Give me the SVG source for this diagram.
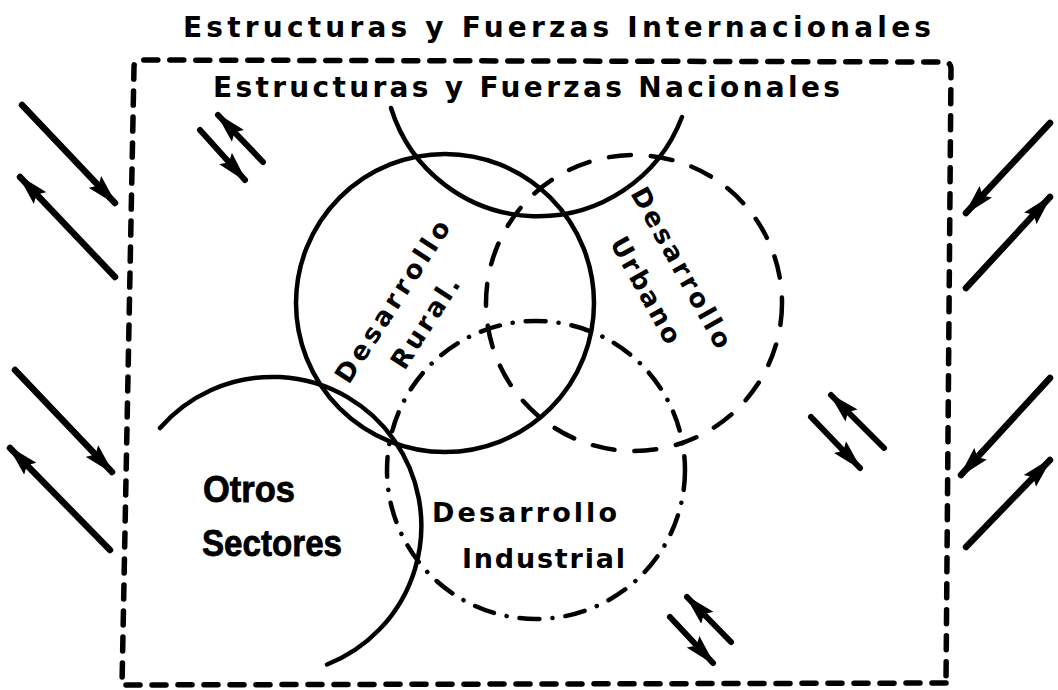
<svg xmlns="http://www.w3.org/2000/svg" width="1058" height="690" viewBox="0 0 1058 690">
  <style>
    .bg { fill: #ffffff; }
    .solid { fill: none; stroke: #000; stroke-width: 4.5; stroke-linecap: round; }
    .dashed { fill: none; stroke: #000; stroke-width: 4.5; stroke-linecap: round; stroke-dasharray: 22 20; }
    .dashdot { fill: none; stroke: #000; stroke-width: 4.5; stroke-linecap: round; stroke-dasharray: 20 13 0.1 13; }
    .frame { fill: none; stroke: #000; stroke-width: 5.5; stroke-linecap: round; stroke-linejoin: round; stroke-dasharray: 14 12; }
    .arrow { fill: none; stroke: #000; stroke-width: 6.5; stroke-linecap: round; marker-end: url(#head); }
    .arrow.small { stroke-width: 6; }
    .t { font-family: "DejaVu Sans", "Liberation Sans", Arial, sans-serif; font-weight: bold; fill: #000; }
    .h { font-family: "Liberation Sans", Arial, sans-serif; font-weight: bold; fill: #000; }
  </style>
  <defs>
    <marker id="head" markerUnits="userSpaceOnUse" markerWidth="32" markerHeight="18" viewBox="0 0 32 18" refX="29" refY="9" orient="auto">
      <path d="M0,0.5 L32,9 L0,17.5 L5,9 Z" fill="#000"/>
    </marker>
  </defs>
  <rect class="bg" x="0" y="0" width="1058" height="690"/>

  <g id="internacional">
    <path class="frame" d="M946,683 L122,685 L134,67 Q134,60 141,60 L944,62 Q951,62 951,69 Z"/>
    <text class="t" x="183" y="37" font-size="28" textLength="748" lengthAdjust="spacing">Estructuras y Fuerzas Internacionales</text>
  </g>

  <g id="nacional">
    <path class="solid" d="M391,108 A154,154 0 0 0 682,117"/>
    <text class="t" x="213" y="97" font-size="28" textLength="627" lengthAdjust="spacing">Estructuras y Fuerzas Nacionales</text>
  </g>

  <g id="rural">
    <circle class="solid" cx="445" cy="303" r="149"/>
    <text class="t" font-size="26" text-anchor="middle" transform="translate(392.5,301.5) rotate(-57)" x="0" y="9" textLength="188" lengthAdjust="spacing">Desarrollo</text>
    <text class="t" font-size="26" text-anchor="middle" transform="translate(392.5,301.5) rotate(-57)" x="0" y="48" textLength="104" lengthAdjust="spacing">Rural.</text>
  </g>

  <g id="urbano">
    <circle class="dashed" cx="634" cy="303" r="148"/>
    <text class="t" font-size="26" text-anchor="middle" transform="translate(681.5,267.5) rotate(61)" x="0" y="9" textLength="180" lengthAdjust="spacing">Desarrollo</text>
    <text class="t" font-size="26" text-anchor="middle" transform="translate(681.5,267.5) rotate(61)" x="2.5" y="51" textLength="118" lengthAdjust="spacing">Urbano</text>
  </g>

  <g id="industrial">
    <circle class="dashdot" cx="536" cy="470" r="149"/>
    <text class="t" x="432" y="522" font-size="27" textLength="185" lengthAdjust="spacing">Desarrollo</text>
    <text class="t" x="462" y="568" font-size="27" textLength="163" lengthAdjust="spacing">Industrial</text>
  </g>

  <g id="otros">
    <path class="solid" d="M160,428 A149,149 0 1 1 327,664.5"/>
    <text class="h" x="203" y="502" font-size="37" textLength="92" lengthAdjust="spacingAndGlyphs" stroke="#000" stroke-width="0.8">Otros</text>
    <text class="h" x="202" y="556" font-size="37" textLength="140" lengthAdjust="spacingAndGlyphs" stroke="#000" stroke-width="0.8">Sectores</text>
  </g>

  <g id="connectors">
    <path class="arrow" d="M22,105 L115,203"/>
    <path class="arrow" d="M115,277 L20,177"/>
    <path class="arrow" d="M15,370 L112,472"/>
    <path class="arrow" d="M110,550 L10,448"/>
    <path class="arrow" d="M1050,123 L966,213"/>
    <path class="arrow" d="M966,288 L1050,197"/>
    <path class="arrow" d="M1050,378 L961,475"/>
    <path class="arrow" d="M966,547 L1050,460"/>
    <path class="arrow small" d="M263,162 L218,115"/>
    <path class="arrow small" d="M200,130 L245,180"/>
    <path class="arrow small" d="M884,448 L831,395"/>
    <path class="arrow small" d="M811,417 L860,468"/>
    <path class="arrow small" d="M731,642 L687,597"/>
    <path class="arrow small" d="M670,617 L713,663"/>
  </g>
</svg>
